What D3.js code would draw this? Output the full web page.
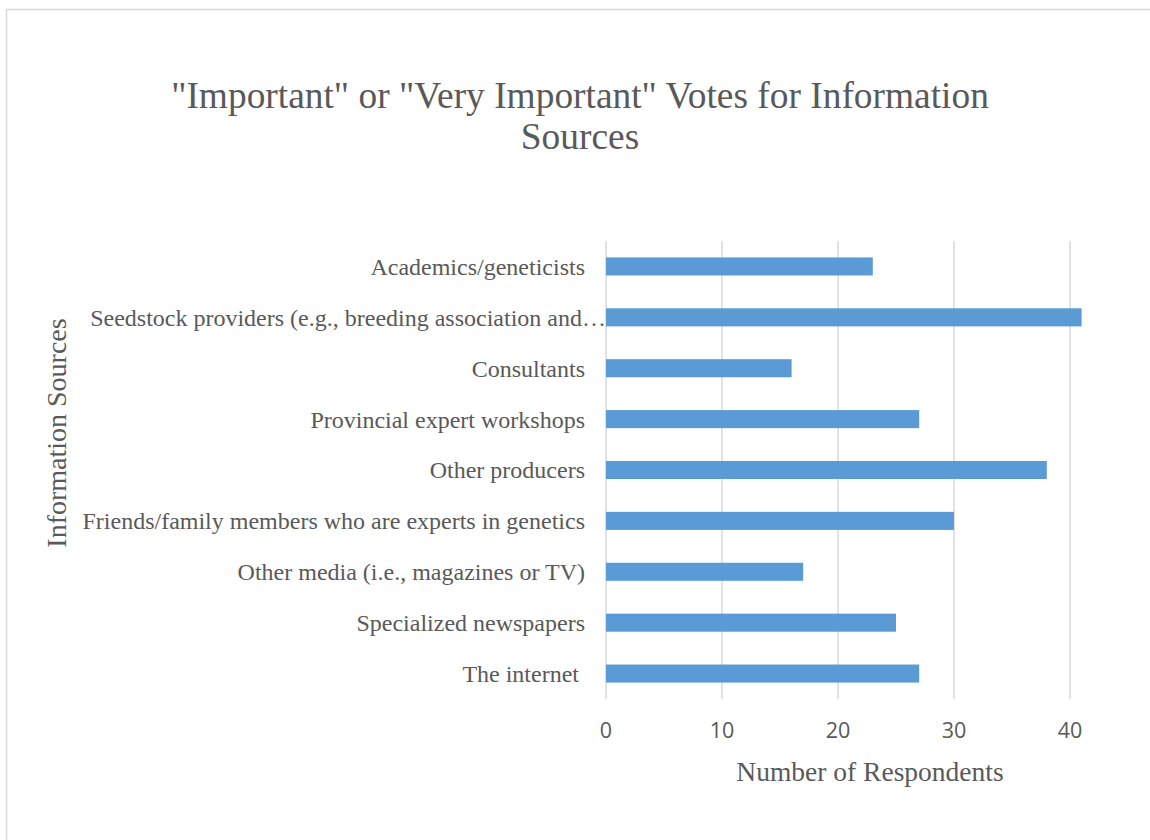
<!DOCTYPE html>
<html>
<head>
<meta charset="utf-8">
<script src="https://cdn.jsdelivr.net/npm/d3@7"></script>
<style>
  html, body { margin: 0; padding: 0; background: #fff; }
  svg { display: block; }
</style>
</head>
<body>
<svg id="chart" width="1150" height="840"></svg>
<script>
// Information sources, listed top to bottom
const categories = [
  "Academics/geneticists",
  "Seedstock providers (e.g., breeding association and\u2026",
  "Consultants",
  "Provincial expert workshops",
  "Other producers",
  "Friends/family members who are experts in genetics",
  "Other media (i.e., magazines or TV)",
  "Specialized newspapers",
  "The internet "
];
// Respondents voting "Important" or "Very Important"
const votes = [23, 41, 16, 27, 38, 30, 17, 25, 27];
const xTicks = [0, 10, 20, 30, 40];
const titleLines = ["\"Important\" or \"Very Important\" Votes for Information", "Sources"];
const xTitle = "Number of Respondents";
const yTitle = "Information Sources";

const svg = d3.select("#chart");
const serif = "'Liberation Serif', 'Times New Roman', serif";
const textColor = "#595959";

// Chart frame
svg.append("rect")
  .attr("x", 6.5).attr("y", 9.5)
  .attr("width", 1160).attr("height", 850)
  .attr("fill", "#fff")
  .attr("stroke", "#d9d9d9").attr("stroke-width", 1.5);

const plot = { left: 606, top: 241, bottom: 699 };

const x = d3.scaleLinear().domain([0, 40]).range([plot.left, 1070]);
const y = d3.scaleBand().domain(categories).range([plot.top, plot.bottom]).paddingInner(0.645).paddingOuter(0.3225);

// Vertical gridlines
svg.append("g")
  .selectAll("line")
  .data(xTicks)
  .join("line")
  .attr("x1", d => x(d)).attr("x2", d => x(d))
  .attr("y1", plot.top).attr("y2", plot.bottom)
  .attr("stroke", "#d9d9d9").attr("stroke-width", 1.5);

// Bars
svg.append("g")
  .selectAll("rect")
  .data(categories)
  .join("rect")
  .attr("x", x(0))
  .attr("y", d => y(d))
  .attr("width", (d, i) => x(votes[i]) - x(0))
  .attr("height", y.bandwidth())
  .attr("fill", "#5b9bd5");

// Category labels (a truncated label runs up to the axis line)
svg.append("g")
  .selectAll("text")
  .data(categories)
  .join("text")
  .attr("x", d => d.endsWith("\u2026") ? 606 : 585)
  .attr("y", d => y(d) + y.bandwidth() / 2)
  .attr("dy", "0.35em")
  .attr("text-anchor", "end")
  .attr("font-family", serif)
  .attr("font-size", 24)
  .attr("fill", textColor)
  .style("white-space", "pre")
  .text(d => d);

// X tick labels
svg.append("g")
  .selectAll("text")
  .data(xTicks)
  .join("text")
  .attr("x", d => x(d))
  .attr("y", 738)
  .attr("text-anchor", "middle")
  .attr("font-family", "'Open Sans', sans-serif")
  .attr("font-size", 21.5)
  .attr("fill", textColor)
  .text(d => d);

// Title
svg.append("text")
  .attr("text-anchor", "middle")
  .attr("font-family", serif)
  .attr("font-size", 37.4)
  .attr("fill", textColor)
  .selectAll("tspan")
  .data(titleLines)
  .join("tspan")
  .attr("x", 580)
  .attr("y", (d, i) => 108 + i * 41)
  .text(d => d);

// Axis titles
svg.append("text")
  .attr("x", 870).attr("y", 781)
  .attr("text-anchor", "middle")
  .attr("font-family", serif)
  .attr("font-size", 27.5)
  .attr("fill", textColor)
  .text(xTitle);

svg.append("text")
  .attr("transform", "translate(66,433) rotate(-90)")
  .attr("text-anchor", "middle")
  .attr("font-family", serif)
  .attr("font-size", 28)
  .attr("fill", textColor)
  .text(yTitle);
</script>
</body>
</html>
